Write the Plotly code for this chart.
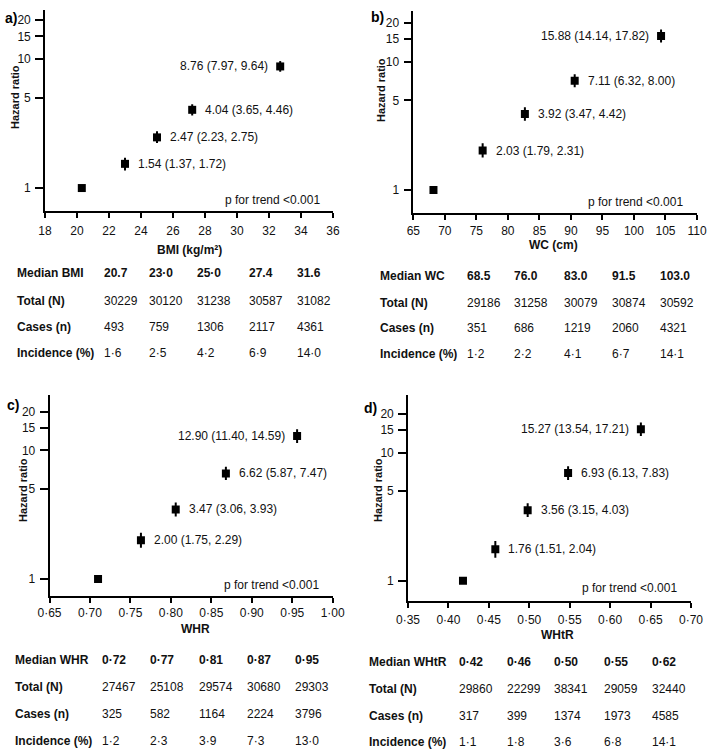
import plotly.graph_objects as go
import numpy as np

W, H = 711, 750
FONT = "Liberation Sans, Arial, sans-serif"

# ---------------- data ----------------
bmi_x = [20.3, 23.0, 25.0, 27.2, 32.7]
bmi_hr = [1.00, 1.54, 2.47, 4.04, 8.76]
bmi_lo = [1.00, 1.37, 2.23, 3.65, 7.97]
bmi_hi = [1.00, 1.72, 2.75, 4.46, 9.64]
bmi_median = ["20.7", "23·0", "25·0", "27.4", "31.6"]
bmi_total = [30229, 30120, 31238, 30587, 31082]
bmi_cases = [493, 759, 1306, 2117, 4361]
bmi_inc = ["1·6", "2·5", "4·2", "6·9", "14·0"]
bmi_ticks = [18, 20, 22, 24, 26, 28, 30, 32, 34, 36]
bmi_ticktext = [str(v) for v in bmi_ticks]

wc_x = [68.2, 76.0, 82.7, 90.6, 104.3]
wc_hr = [1.00, 2.03, 3.92, 7.11, 15.88]
wc_lo = [1.00, 1.79, 3.47, 6.32, 14.14]
wc_hi = [1.00, 2.31, 4.42, 8.00, 17.82]
wc_median = ["68.5", "76.0", "83.0", "91.5", "103.0"]
wc_total = [29186, 31258, 30079, 30874, 30592]
wc_cases = [351, 686, 1219, 2060, 4321]
wc_inc = ["1·2", "2·2", "4·1", "6·7", "14·1"]
wc_ticks = [65, 70, 75, 80, 85, 90, 95, 100, 105, 110]
wc_ticktext = [str(v) for v in wc_ticks]

whr_x = [0.710, 0.763, 0.806, 0.868, 0.956]
whr_hr = [1.00, 2.00, 3.47, 6.62, 12.90]
whr_lo = [1.00, 1.75, 3.06, 5.87, 11.40]
whr_hi = [1.00, 2.29, 3.93, 7.47, 14.59]
whr_median = ["0·72", "0·77", "0·81", "0·87", "0·95"]
whr_total = [27467, 25108, 29574, 30680, 29303]
whr_cases = [325, 582, 1164, 2224, 3796]
whr_inc = ["1·2", "2·3", "3·9", "7·3", "13·0"]
whr_ticks = [0.65, 0.70, 0.75, 0.80, 0.85, 0.90, 0.95, 1.00]
whr_ticktext = ["0·65", "0·70", "0·75", "0·80", "0·85", "0·90", "0·95", "1·00"]

whtr_x = [0.418, 0.458, 0.498, 0.548, 0.638]
whtr_hr = [1.00, 1.76, 3.56, 6.93, 15.27]
whtr_lo = [1.00, 1.51, 3.15, 6.13, 13.54]
whtr_hi = [1.00, 2.04, 4.03, 7.83, 17.21]
whtr_median = ["0·42", "0·46", "0·50", "0·55", "0·62"]
whtr_total = [29860, 22299, 38341, 29059, 32440]
whtr_cases = [317, 399, 1374, 1973, 4585]
whtr_inc = ["1·1", "1·8", "3·6", "6·8", "14·1"]
whtr_ticks = [0.35, 0.40, 0.45, 0.50, 0.55, 0.60, 0.65, 0.70]
whtr_ticktext = ["0·35", "0·40", "0·45", "0·50", "0·55", "0·60", "0·65", "0·70"]

hr_ticks = [1, 5, 10, 15, 20]
row_labels_tail = ["Total (N)", "Cases (n)", "Incidence (%)"]
p_text = "p for trend <0.001"

# ---------------- layout (pixel geometry) ----------------
panels = [
    dict(letter="a)", x=bmi_x, hr=bmi_hr, lo=bmi_lo, hi=bmi_hi, med=bmi_median, tot=bmi_total,
         cas=bmi_cases, inc=bmi_inc, ticks=bmi_ticks, ticktext=bmi_ticktext, xrange=[18, 36],
         med_label="Median BMI", xtitle="BMI (kg/m²)",
         ax=(45, 333), ay=(10, 211), yr=(-0.178, 1.380), standoff=3,
         letter_pos=(3, 18), ytitle_pos=(15, 97), xtitle_pos=(190, 250), p_pos=(322, 200),
         lab_x=15, col_x=[101.7, 146.7, 195, 246.7, 295], row_y=[273.3, 301, 327.3, 353.3]),
    dict(letter="b)", x=wc_x, hr=wc_hr, lo=wc_lo, hi=wc_hi, med=wc_median, tot=wc_total,
         cas=wc_cases, inc=wc_inc, ticks=wc_ticks, ticktext=wc_ticktext, xrange=[65, 110],
         med_label="Median WC", xtitle="WC (cm)",
         ax=(413.3, 697), ay=(11, 213), yr=(-0.179, 1.395), standoff=1,
         letter_pos=(369, 17), ytitle_pos=(381, 90), xtitle_pos=(553, 245), p_pos=(685, 202),
         lab_x=378.3, col_x=[465, 511.7, 561.7, 610, 658.3], row_y=[275.7, 302.7, 328.3, 354.3]),
    dict(letter="c)", x=whr_x, hr=whr_hr, lo=whr_lo, hi=whr_hi, med=whr_median, tot=whr_total,
         cas=whr_cases, inc=whr_inc, ticks=whr_ticks, ticktext=whr_ticktext, xrange=[0.65, 1.00],
         med_label="Median WHR", xtitle="WHR",
         ax=(49.5, 332.7), ay=(395, 596), yr=(-0.132, 1.430), standoff=0,
         letter_pos=(5, 405), ytitle_pos=(23, 490), xtitle_pos=(195, 629), p_pos=(321, 585),
         lab_x=13.3, col_x=[100, 148.3, 196.7, 245, 293.3], row_y=[660, 686.7, 714, 740.7]),
    dict(letter="d)", x=whtr_x, hr=whtr_hr, lo=whtr_lo, hi=whtr_hi, med=whtr_median, tot=whtr_total,
         cas=whtr_cases, inc=whtr_inc, ticks=whtr_ticks, ticktext=whtr_ticktext, xrange=[0.35, 0.70],
         med_label="Median WHtR", xtitle="WHtR",
         ax=(408, 691), ay=(395, 600.7), yr=(-0.156, 1.451), standoff=2,
         letter_pos=(362, 408), ytitle_pos=(378, 490), xtitle_pos=(557, 635), p_pos=(679, 588),
         lab_x=366.7, col_x=[456.7, 505, 551.7, 601.7, 650], row_y=[662.3, 689, 715.7, 741.7]),
]


def fx(p):
    return p / W


def fy(p):
    return 1 - p / H


fig = go.Figure()
annotations = []
txt = dict(family=FONT, size=12, color="#111111")
bold = dict(family=FONT, size=12, color="#111111", weight="bold")

for i, P in enumerate(panels):
    n = "" if i == 0 else str(i + 1)
    xa, ya = "x" + n, "y" + n
    hr = np.array(P["hr"])
    lo = np.array(P["lo"])
    hi = np.array(P["hi"])
    fig.add_trace(go.Scatter(
        x=P["x"], y=hr, mode="markers", xaxis=xa, yaxis=ya, showlegend=False,
        marker=dict(symbol="square", size=8, color="black"),
        error_y=dict(type="data", symmetric=False, array=hi - hr, arrayminus=hr - lo,
                     color="black", thickness=2, width=0),
    ))
    common_line = dict(showline=True, linecolor="black", linewidth=1.6, showgrid=False, zeroline=False,
                       ticks="outside", tickcolor="black", tickwidth=1.6, mirror=False, automargin=False,
                       tickfont=dict(family=FONT, size=12, color="#111111"))
    fig.update_layout(**{
        ("xaxis" + n): dict(domain=[fx(P["ax"][0]), fx(P["ax"][1])], range=P["xrange"],
                            anchor=ya, tickvals=P["ticks"], ticktext=P["ticktext"], ticklen=5,
                            ticklabelstandoff=P["standoff"], **common_line),
        ("yaxis" + n): dict(domain=[fy(P["ay"][1]), fy(P["ay"][0])], type="log", range=list(P["yr"]),
                            anchor=xa, tickvals=hr_ticks, ticktext=[str(v) for v in hr_ticks], ticklen=8,
                            ticklabelstandoff=2, **common_line),
    })
    # value labels
    for j in range(1, len(hr)):
        last = j == len(hr) - 1
        annotations.append(dict(
            x=P["x"][j], y=np.log10(hr[j]), xref=xa, yref=ya, showarrow=False,
            text=f"{hr[j]:.2f} ({lo[j]:.2f}, {hi[j]:.2f})", font=txt,
            xanchor="right" if last else "left", yanchor="middle", xshift=-10 if last else 11))
    # p for trend
    annotations.append(dict(x=fx(P["p_pos"][0]), y=fy(P["p_pos"][1]), xref="paper", yref="paper",
                            showarrow=False, text=p_text, font=txt, xanchor="right", yanchor="middle"))
    # panel letter
    annotations.append(dict(x=fx(P["letter_pos"][0]), y=fy(P["letter_pos"][1]), xref="paper", yref="paper",
                            showarrow=False, text=P["letter"],
                            font=dict(family=FONT, size=14, color="black", weight="bold"),
                            xanchor="left", yanchor="middle"))
    # y axis title
    annotations.append(dict(x=fx(P["ytitle_pos"][0]), y=fy(P["ytitle_pos"][1]), xref="paper", yref="paper",
                            showarrow=False, text="Hazard ratio", textangle=-90,
                            font=dict(family=FONT, size=11, color="#111111", weight="bold"),
                            xanchor="center", yanchor="middle"))
    # x axis title
    annotations.append(dict(x=fx(P["xtitle_pos"][0]), y=fy(P["xtitle_pos"][1]), xref="paper", yref="paper",
                            showarrow=False, text=P["xtitle"], font=bold,
                            xanchor="center", yanchor="middle"))
    # table
    rows = [(P["med_label"], P["med"], True),
            (row_labels_tail[0], [str(v) for v in P["tot"]], False),
            (row_labels_tail[1], [str(v) for v in P["cas"]], False),
            (row_labels_tail[2], P["inc"], False)]
    for r, (lab, vals, isbold) in enumerate(rows):
        yy = fy(P["row_y"][r])
        annotations.append(dict(x=fx(P["lab_x"]), y=yy, xref="paper", yref="paper", showarrow=False,
                                text=lab, font=bold, xanchor="left", yanchor="middle"))
        for c, v in enumerate(vals):
            annotations.append(dict(x=fx(P["col_x"][c]), y=yy, xref="paper", yref="paper", showarrow=False,
                                    text=v, font=bold if isbold else txt, xanchor="left", yanchor="middle"))

fig.update_layout(
    width=W, height=H, margin=dict(l=0, r=0, t=0, b=0, autoexpand=False),
    paper_bgcolor="white", plot_bgcolor="white",
    annotations=annotations, showlegend=False,
    font=dict(family=FONT, size=12, color="#111111"),
)

fig.write_html("out.html", config={"displayModeBar": False},
               post_script="document.body.style.margin='0px';document.body.style.overflow='hidden';")
